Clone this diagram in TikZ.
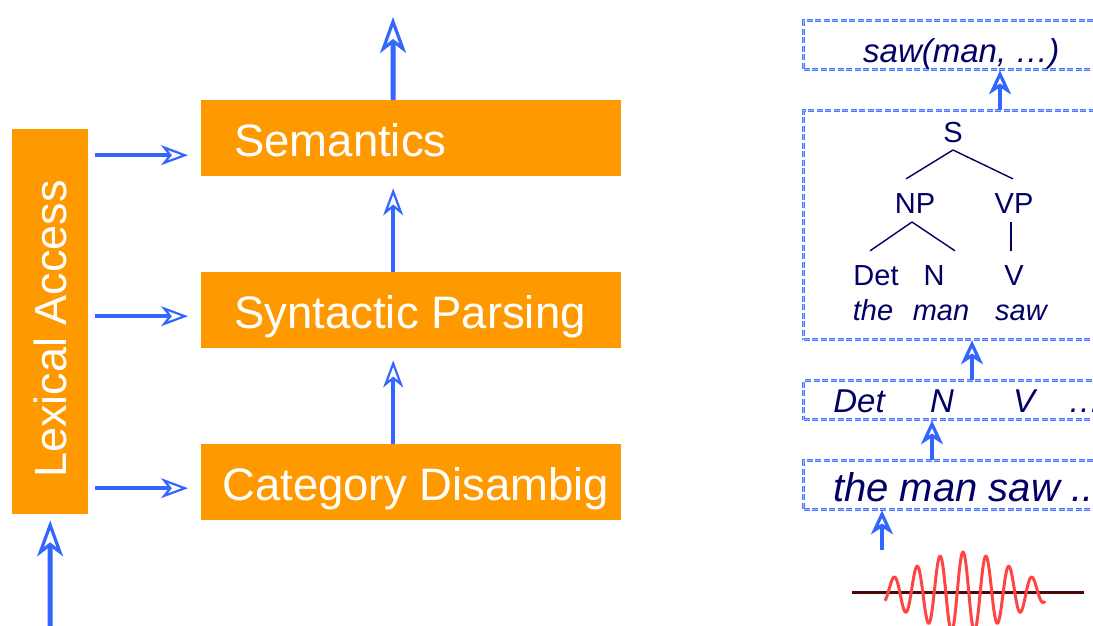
\documentclass[tikz,border=0pt]{standalone}
\usepackage{fontspec}
\setmainfont{Liberation Sans}
\usetikzlibrary{arrows.meta}

\definecolor{procorange}{HTML}{FF9900}
\definecolor{flowblue}{HTML}{3366FF}
\definecolor{frameblue}{HTML}{4A78FF}
\definecolor{inkblue}{HTML}{000066}
\definecolor{wavered}{HTML}{FF4444}
\definecolor{axisbrown}{HTML}{4A0A0A}

\newcommand\setsize[1]{\fontsize{#1}{#1}\selectfont}

\begin{document}
\begin{tikzpicture}[x=1pt,y=-1pt,
  stagebox/.style={fill=procorange, draw=none, anchor=north west,
    minimum height=76, inner ysep=0, text=white, font=\setsize{45.5},
    text height=37, text depth=0},
  stagelabel/.style={text=white, font=\setsize{45}, inner sep=0},
  feedarrow/.style={draw=flowblue, line width=3.5pt,
    -{Stealth[open, length=27pt, width=20pt, inset=8pt, line width=2.2pt]}},
  bigarrow/.style={draw=flowblue, line width=5pt,
    -{Stealth[open, length=36pt, width=26pt, inset=10pt, line width=3.2pt]}},
  steparrow/.style={draw=flowblue, line width=4.5pt,
    -{Stealth[open, length=24pt, width=22pt, inset=7pt, line width=3.2pt]}},
  levelframe/.style={draw=frameblue, line width=1.3pt, double=white!45!frameblue,
    double distance=1pt, dash pattern=on 6pt off 2.5pt, anchor=north west,
    inner sep=0, minimum width=320},
  treelabel/.style={text=inkblue, font=\setsize{29}, inner sep=2pt, anchor=base},
  treeword/.style={text=inkblue, font=\setsize{29}\itshape, inner sep=2pt, anchor=base},
  levelword/.style={text=inkblue, font=\setsize{33}\itshape, inner sep=0, anchor=base},
  branch/.style={draw=inkblue, line width=1.4pt},
]
\useasboundingbox (0,0) rectangle (1093,625);
\clip (0,0) rectangle (1093,625);

% ---------- processing pipeline ----------
\node[fill=procorange, anchor=north west, minimum width=76, minimum height=385,
  inner sep=0] (lex) at (12,129) {};
\node[stagelabel, rotate=90] (lexlabel) at (50,329) {Lexical Access};

\node[stagebox, inner xsep=33] (sem) at (201,100) {\makebox[354pt][l]{Semantics}};
\node[stagebox, inner xsep=33] (syn) at (201,272) {\makebox[354pt][l]{Syntactic Parsing}};
\node[stagebox, inner xsep=21] (cat) at (201,444) {\makebox[378pt][l]{Category Disambig}};

% lexical information feeding each stage
\coordinate (semin) at ([yshift=-17pt]sem.west);
\coordinate (synin) at ([yshift=-6pt]syn.west);
\coordinate (catin) at ([yshift=-6pt]cat.west);
\draw[feedarrow, shorten <=7pt, shorten >=13pt] (semin -| lex.east) -- (semin);
\draw[feedarrow, shorten <=7pt, shorten >=13pt] (synin -| lex.east) -- (synin);
\draw[feedarrow, shorten <=7pt, shorten >=13pt] (catin -| lex.east) -- (catin);

% upward flow between stages
\draw[feedarrow, shorten >=12pt] ([xshift=-18pt]cat.north) -- ([xshift=-18pt]syn.south);
\draw[feedarrow, shorten >=12pt] ([xshift=-18pt]syn.north) -- ([xshift=-18pt]sem.south);

\coordinate (output) at (393,17);
\draw[bigarrow] ([xshift=-18pt]sem.north) -- (output);
\coordinate (input) at (50,630);
\draw[bigarrow, shorten >=6pt] (input) -- (lex.south);

% ---------- representation levels ----------
\node[levelframe, minimum height=49] (f1) at (803,20) {};
\node[levelframe, minimum height=229] (f2) at (803,110) {};
\node[levelframe, minimum height=39] (f3) at (803,380) {};
\node[levelframe, minimum height=49] (f4) at (803,460) {};

\node[levelword, anchor=base west] (logic) at (863,62) {saw(man, …)};

% parse tree
\node[treelabel] (S) at (953,142) {S};
\node[treelabel] (NP) at (915,213) {NP};
\node[treelabel] (VP) at (1014,213) {VP};
\node[treelabel] (Det) at (876,285) {Det};
\node[treelabel] (N) at (934,285) {N};
\node[treelabel] (V) at (1014,285) {V};
\node[treeword] (the) at (873,320) {the};
\node[treeword] (man) at (941,320) {man};
\node[treeword] (saw) at (1021,320) {saw};

\draw[branch] ([yshift=-8pt]S.base) -- ([xshift=-9pt,yshift=12pt]NP.north);
\draw[branch] ([yshift=-8pt]S.base) -- ([xshift=-1pt,yshift=12pt]VP.north);
\draw[branch] ([xshift=-3pt,yshift=-9pt]NP.base) -- ([xshift=-6pt,yshift=12pt]Det.north);
\draw[branch] ([xshift=-3pt,yshift=-9pt]NP.base) -- ([xshift=21pt,yshift=12pt]N.north);
\draw[branch] ([xshift=-3pt,yshift=-9pt]VP.base) -- ([xshift=-3pt,yshift=12pt]V.north);

% category sequence
\node[levelword] (tagdet) at (859,412) {Det};
\node[levelword] (tagn) at (942,412) {N};
\node[levelword] (tagv) at (1024,412) {V};
\node[levelword, anchor=base west] (tagmore) at (1068,412) {…};

% word string
\node[levelword, font=\setsize{40}\itshape, anchor=base west] (words) at (833,501) {the man saw ..};

% upward flow between levels
\draw[steparrow] ([xshift=129pt]f4.north west) -- ([xshift=129pt]f3.south west);
\draw[steparrow] ([xshift=169pt]f3.north west) -- ([xshift=169pt]f2.south west);
\draw[steparrow] ([xshift=197pt]f2.north west) -- ([xshift=197pt]f1.south west);
\coordinate (signal) at (882,550);
\draw[steparrow] (signal) -- ([xshift=79pt]f4.south west);

% speech waveform: Gaussian-windowed oscillation around x = 963
\draw[axisbrown, line width=3pt] (852,592) -- (1084,592);
\draw[wavered, line width=3pt, line join=round]
  plot[domain=-78:82, samples=500]
  ({963+\x}, {592 - 40*exp(-\x*\x/4800)*cos(15.652*\x)});
\end{tikzpicture}
\end{document}
